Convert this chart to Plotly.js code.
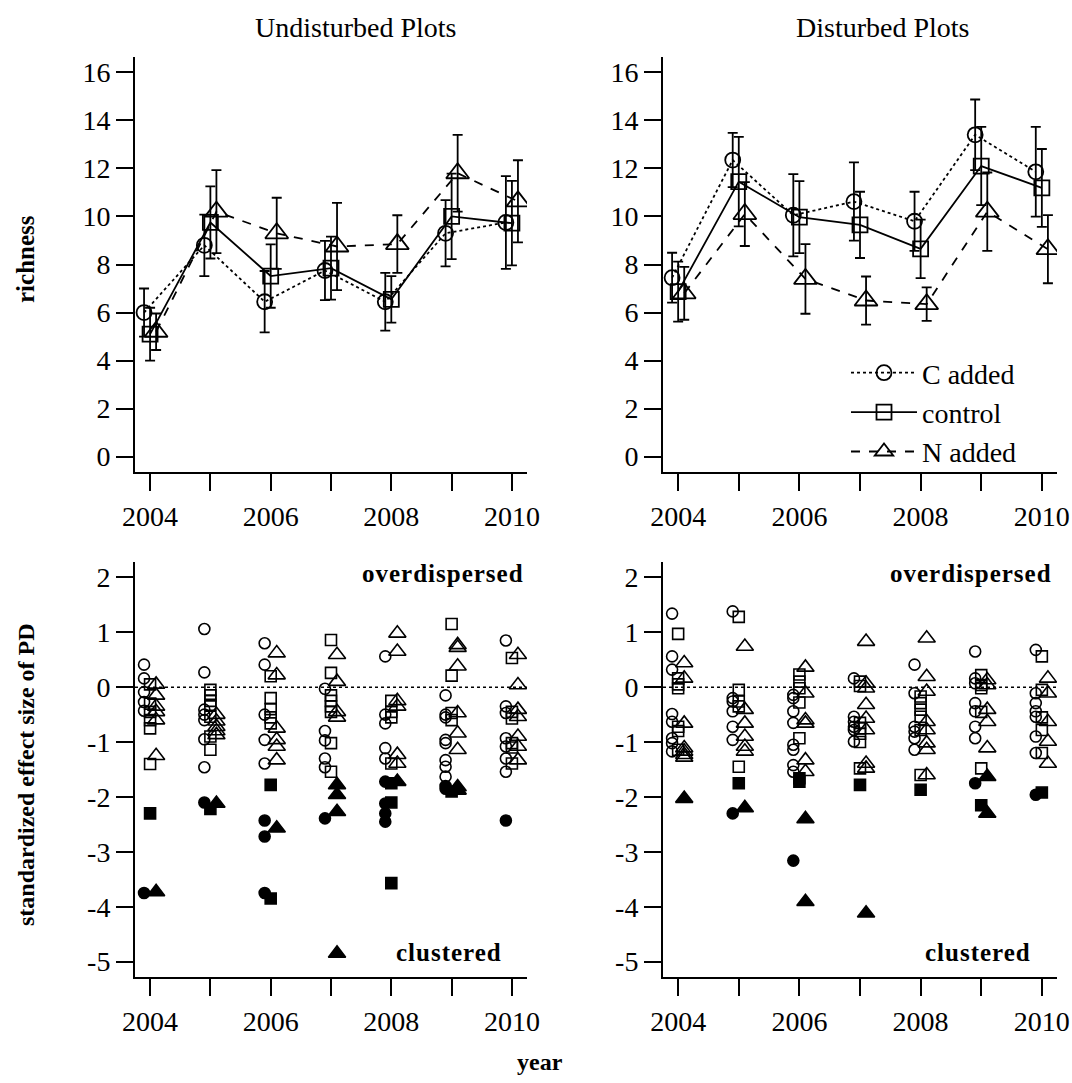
<!DOCTYPE html>
<html>
<head>
<meta charset="utf-8">
<script src="https://cdn.plot.ly/plotly-3.0.1.min.js"></script>
<style>
  html, body { margin: 0; padding: 0; background: #fff; }
  #chart { width: 1072px; height: 1083px; }
</style>
</head>
<body>
<div id="chart"></div>
<script>
// ---- data -------------------------------------------------------------
const years = [2004, 2005, 2006, 2007, 2008, 2009, 2010];
const yearLabels = ['2004', '', '2006', '', '2008', '', '2010'];
const seriesNames = ['C added', 'control', 'N added'];

// species richness: mean and standard error per year, undisturbed plots
const undRichC     = [6.0, 8.8, 6.45, 7.75, 6.45, 9.3, 9.75];
const undRichCse   = [1.0, 1.28, 1.28, 1.23, 1.2, 1.38, 1.93];
const undRichCtl   = [5.1, 9.75, 7.52, 7.85, 6.55, 10.0, 9.72];
const undRichCtlSe = [1.1, 1.5, 1.32, 1.31, 0.97, 1.78, 1.76];
const undRichN     = [5.2, 10.2, 9.3, 8.75, 8.85, 11.8, 10.63];
const undRichNse   = [0.76, 1.73, 1.48, 1.82, 1.2, 1.6, 1.71];

// species richness: mean and standard error per year, disturbed plots
const disRichC     = [7.45, 12.35, 10.05, 10.62, 9.8, 13.4, 11.86];
const disRichCse   = [1.04, 1.13, 1.71, 1.63, 1.23, 1.47, 1.87];
const disRichCtl   = [6.87, 11.45, 9.97, 9.65, 8.65, 12.1, 11.19];
const disRichCtlSe = [1.25, 1.86, 1.5, 1.38, 1.22, 1.63, 1.62];
const disRichN     = [6.8, 10.1, 7.4, 6.5, 6.35, 10.2, 8.64];
const disRichNse   = [1.1, 1.33, 1.45, 1.0, 0.7, 1.63, 1.42];

// SES of PD per plot, one list per year; "Sig" lists hold the significantly clustered plots
const undSesC = [
  [0.41, 0.16, -0.09, -0.27, -0.43],
  [1.06, 0.27, -0.41, -0.5, -0.6, -0.95, -1.46],
  [0.8, 0.41, -0.5, -0.96, -1.39],
  [-0.03, -0.8, -0.97, -1.3, -1.46],
  [0.56, -0.5, -0.66, -1.11, -1.3],
  [-0.15, -0.5, -0.55, -0.96, -1.02, -1.33, -1.45, -1.63],
  [0.85, -0.35, -0.47, -0.93, -1.08, -1.3, -1.54]
];
const undSesCSig = [[-3.75], [-2.1], [-2.43, -2.72, -3.75], [-2.39], [-1.72, -2.12, -2.3, -2.45], [-1.8, -1.85], [-2.43]];
const undSesCtl = [
  [0.05, -0.3, -0.45, -0.6, -0.75, -1.4],
  [-0.05, -0.15, -0.25, -0.32, -0.54, -0.9, -1.14],
  [0.2, -0.2, -0.4, -0.55, -0.66],
  [0.86, 0.26, -0.15, -0.25, -0.35, -0.45, -1.02, -1.54],
  [-0.25, -0.45, -0.55, -1.39],
  [1.15, 0.21, -0.47, -0.6],
  [0.53, -0.45, -0.57, -1.02, -1.1, -1.39]
];
const undSesCtlSig = [[-2.3], [-2.22], [-1.78, -3.85], [], [-1.75, -2.1, -3.57], [-1.9], []];
const undSesN = [
  [0.05, -0.15, -0.35, -0.45, -0.6, -1.25],
  [-0.5, -0.62, -0.72, -0.8, -0.87],
  [0.62, 0.22, -0.75, -0.96, -1.08, -1.33],
  [0.59, 0.1, -0.45, -0.55],
  [0.98, 0.65, -0.25, -0.35, -1.23, -1.39],
  [0.77, 0.72, 0.38, -0.47, -0.84, -1.14],
  [0.59, 0.04, -0.41, -0.54, -0.9, -1.08, -1.33]
];
const undSesNSig = [[-3.73], [-2.12], [-2.57], [-1.78, -1.96, -2.27, -4.85], [-1.72], [-1.82, -1.88], []];

const disSesC = [
  [1.34, 0.56, 0.32, -0.49, -0.63, -0.93, -1.02, -1.17],
  [1.38, -0.2, -0.26, -0.44, -0.72, -0.96],
  [-0.14, -0.2, -0.44, -0.65, -1.05, -1.14, -1.42, -1.54],
  [0.16, -0.54, -0.63, -0.72, -0.78, -0.99],
  [0.41, -0.11, -0.72, -0.81, -0.93, -1.14],
  [0.65, 0.16, 0.07, -0.29, -0.44, -0.72, -0.93],
  [0.68, -0.11, -0.29, -0.44, -0.54, -0.9, -1.2]
];
const disSesCSig = [[], [-2.3], [-3.16], [], [], [-1.75], [-1.96]];
const disSesCtl = [
  [0.97, 0.16, 0.05, -0.02, -0.72, -0.8, -1.14],
  [1.28, -0.05, -0.26, -0.35, -1.45],
  [0.23, 0.1, -0.02, -0.28, -0.93],
  [0.1, 0.02, -0.65, -0.75, -0.85, -1.0, -1.48],
  [-0.17, -0.29, -0.41, -0.54, -0.78, -1.6],
  [0.22, 0.04, -0.02, -0.45, -1.48],
  [0.56, -0.05, -0.55, -0.78, -1.2]
];
const disSesCtlSig = [[], [-1.75], [-1.66, -1.72], [-1.78], [-1.87], [-2.15], [-1.92]];
const disSesN = [
  [0.44, 0.16, -0.66, -1.11, -1.17, -1.23, -1.28],
  [0.74, -0.41, -0.66, -0.9, -1.08, -1.17],
  [0.36, -0.11, -0.6, -0.66, -1.33, -1.54],
  [0.83, 0.07, -0.02, -0.32, -0.57, -0.78, -1.39, -1.48],
  [0.89, 0.19, -0.08, -0.63, -0.78, -1.02, -1.14, -1.6],
  [0.13, 0.04, -0.41, -0.63, -1.11],
  [0.16, -0.11, -0.63, -0.99, -1.39]
];
const disSesNSig = [[-2.03], [-2.2], [-2.4, -3.91], [-4.12], [], [-1.63, -2.3], []];

// ---- styling ----------------------------------------------------------
const SERIF = 'Liberation Serif, Times New Roman, serif';
const INK = '#000';
const treat = [
  { offset: -0.1, symbol: 'circle',      dash: 'dot',   rich: 15, ses: 11 },
  { offset:  0.0, symbol: 'square',      dash: 'solid', rich: 15, ses: 11 },
  { offset:  0.1, symbol: 'triangle-up', dash: 'dash',  rich: 20, ses: 15 }
];

function richTrace(k, mean, se, xa, ya, showlegend) {
  const t = treat[k];
  return {
    type: 'scatter', mode: 'lines+markers', name: seriesNames[k],
    x: years.map(y => y + t.offset), y: mean,
    xaxis: xa, yaxis: ya, showlegend: showlegend, legendrank: k + 1,
    line: { color: INK, width: 1.8, dash: t.dash },
    marker: { symbol: t.symbol + '-open', size: t.rich, color: INK, line: { color: INK, width: 1.8 } },
    error_y: { type: 'data', array: se, visible: true, color: INK, thickness: 1.8, width: 5 },
    hoverinfo: 'skip'
  };
}

function sesTrace(k, lists, filled, xa, ya) {
  const t = treat[k];
  const x = [], y = [];
  lists.forEach((vals, i) => vals.forEach(v => { x.push(years[i] + t.offset); y.push(v); }));
  return {
    type: 'scatter', mode: 'markers', x: x, y: y, xaxis: xa, yaxis: ya, showlegend: false,
    marker: {
      symbol: filled ? t.symbol : t.symbol + '-open',
      size: t.ses, color: INK, line: { color: INK, width: 1.6 }
    },
    hoverinfo: 'skip'
  };
}

const traces = [
  richTrace(0, undRichC, undRichCse, 'x', 'y', false),
  richTrace(1, undRichCtl, undRichCtlSe, 'x', 'y', false),
  richTrace(2, undRichN, undRichNse, 'x', 'y', false),
  richTrace(0, disRichC, disRichCse, 'x2', 'y2', true),
  richTrace(1, disRichCtl, disRichCtlSe, 'x2', 'y2', true),
  richTrace(2, disRichN, disRichNse, 'x2', 'y2', true),
  sesTrace(0, undSesC, false, 'x3', 'y3'),
  sesTrace(1, undSesCtl, false, 'x3', 'y3'),
  sesTrace(2, undSesN, false, 'x3', 'y3'),
  sesTrace(0, undSesCSig, true, 'x3', 'y3'),
  sesTrace(1, undSesCtlSig, true, 'x3', 'y3'),
  sesTrace(2, undSesNSig, true, 'x3', 'y3'),
  sesTrace(0, disSesC, false, 'x4', 'y4'),
  sesTrace(1, disSesCtl, false, 'x4', 'y4'),
  sesTrace(2, disSesN, false, 'x4', 'y4'),
  sesTrace(0, disSesCSig, true, 'x4', 'y4'),
  sesTrace(1, disSesCtlSig, true, 'x4', 'y4'),
  sesTrace(2, disSesNSig, true, 'x4', 'y4')
];

// ---- axes -------------------------------------------------------------
const W = 1072, H = 1083;
const axisBase = {
  showline: true, linewidth: 2, linecolor: INK, mirror: false,
  ticks: 'outside', ticklen: 17, tickwidth: 2, tickcolor: INK,
  showgrid: false, zeroline: false, fixedrange: true,
  tickfont: { family: SERIF, size: 28, color: INK }
};
const colLeft = [135 / W, 527 / W];
const colRight = [663 / W, 1057 / W];
const rowTop = [1 - 472 / H, 1 - 57 / H];
const rowBottom = [1 - 977 / H, 1 - 562 / H];

function xAxis(domain, anchor) {
  return Object.assign({}, axisBase, {
    domain: domain, anchor: anchor, range: [2003.75, 2010.25],
    tickmode: 'array', tickvals: years, ticktext: yearLabels, ticklabelstandoff: 1
  });
}
const richTicks = [0, 2, 4, 6, 8, 10, 12, 14, 16];
const sesTicks = [-5, -4, -3, -2, -1, 0, 1, 2];
function yRich(domain, anchor) {
  return Object.assign({}, axisBase, {
    domain: domain, anchor: anchor, range: [-0.64, 16.64],
    tickmode: 'array', tickvals: richTicks, ticktext: richTicks.map(String), ticklabelstandoff: 0
  });
}
function ySes(domain, anchor) {
  return Object.assign({}, axisBase, {
    domain: domain, anchor: anchor, range: [-5.28, 2.28],
    tickmode: 'array', tickvals: sesTicks, ticktext: sesTicks.map(String), ticklabelstandoff: 0
  });
}

function label(text, x, y, opts) {
  return Object.assign({
    text: text, xref: 'paper', yref: 'paper', x: x, y: y,
    showarrow: false, xanchor: 'center', yanchor: 'middle',
    font: { family: SERIF, size: 28, color: INK }
  }, opts || {});
}
const boldFont = { family: SERIF, size: 25, color: INK, weight: 'bold' };
const spaced = s => '<span style="letter-spacing:1px">' + s + '</span>';

const layout = {
  width: W, height: H,
  margin: { l: 0, r: 0, t: 0, b: 0 },
  paper_bgcolor: '#fff', plot_bgcolor: '#fff',
  font: { family: SERIF, color: INK },
  xaxis: xAxis(colLeft, 'y'),   yaxis: yRich(rowTop, 'x'),
  xaxis2: xAxis(colRight, 'y2'), yaxis2: yRich(rowTop, 'x2'),
  xaxis3: xAxis(colLeft, 'y3'), yaxis3: ySes(rowBottom, 'x3'),
  xaxis4: xAxis(colRight, 'y4'), yaxis4: ySes(rowBottom, 'x4'),
  showlegend: true,
  legend: {
    x: 846 / W, y: 1 - 348 / H, xanchor: 'left', yanchor: 'top',
    bgcolor: 'rgba(0,0,0,0)', borderwidth: 0, itemwidth: 66,
    traceorder: 'normal', tracegroupgap: 0,
    font: { family: SERIF, size: 28, color: INK }
  },
  shapes: ['x3', 'x4'].map((xa, i) => ({
    type: 'line', xref: xa + ' domain', x0: 0, x1: 1,
    yref: i === 0 ? 'y3' : 'y4', y0: 0, y1: 0,
    line: { color: INK, width: 1.5, dash: 'dot' }
  })),
  annotations: [
    label('Undisturbed Plots', 355 / W, 1 - 28 / H),
    label('Disturbed Plots', 882 / W, 1 - 28 / H),
    label('richness', 26 / W, 1 - 259 / H, { textangle: -90, font: boldFont }),
    label('standardized effect size of PD', 26 / W, 1 - 775 / H, { textangle: -90, font: Object.assign({}, boldFont, { size: 24 }) }),
    label('year', 540 / W, 1 - 1062 / H, { font: Object.assign({}, boldFont, { size: 24 }) }),
    label(spaced('overdispersed'), 526 / W, 1 - 573 / H, { xanchor: 'right', font: boldFont }),
    label(spaced('overdispersed'), 1054 / W, 1 - 573 / H, { xanchor: 'right', font: boldFont }),
    label(spaced('clustered'), 504 / W, 1 - 952 / H, { xanchor: 'right', font: boldFont }),
    label(spaced('clustered'), 1033 / W, 1 - 952 / H, { xanchor: 'right', font: boldFont })
  ]
};

Plotly.newPlot('chart', traces, layout, { staticPlot: true, displayModeBar: false });
</script>
</body>
</html>
